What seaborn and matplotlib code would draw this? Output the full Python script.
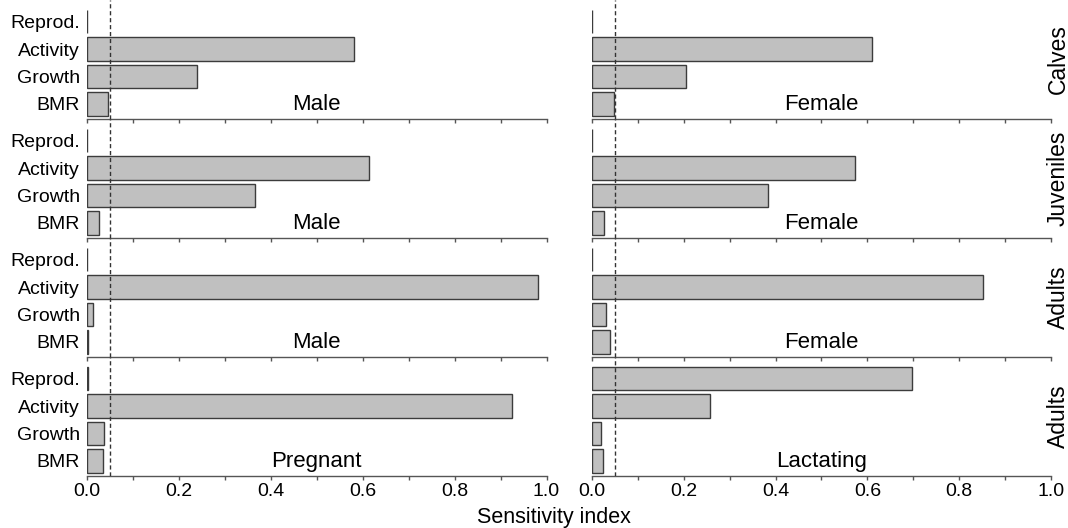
import numpy as np
import pandas as pd
import matplotlib
matplotlib.use("Agg")
import matplotlib.pyplot as plt
from matplotlib.ticker import MultipleLocator, FormatStrFormatter
import seaborn as sns

# Parametros y valores del indice de sensibilidad
params = ["Reprod.", "Activity", "Growth", "BMR"]
male_calves = [0.0, 0.581, 0.240, 0.046]
female_calves = [0.0, 0.611, 0.205, 0.048]
male_juveniles = [0.0, 0.613, 0.366, 0.027]
female_juveniles = [0.0, 0.574, 0.384, 0.026]
male_adults = [0.0, 0.982, 0.013, 0.003]
female_adults = [0.0, 0.851, 0.031, 0.039]
pregnant = [0.002, 0.925, 0.037, 0.034]
lactating = [0.698, 0.257, 0.020, 0.024]

row_labels = ["Calves", "Juveniles", "Adults", "Adults"]
panel_labels = [["Male", "Female"], ["Male", "Female"],
                ["Male", "Female"], ["Pregnant", "Lactating"]]
series = [[male_calves, female_calves], [male_juveniles, female_juveniles],
          [male_adults, female_adults], [pregnant, lactating]]
threshold = 0.05

sns.set_style("white")
plt.rcParams["font.family"] = ["Liberation Sans", "DejaVu Sans"]
plt.rcParams["text.color"] = "black"
plt.rcParams["xtick.labelcolor"] = "black"
plt.rcParams["ytick.labelcolor"] = "black"

fig = plt.figure(figsize=(10.68, 5.28), dpi=100)

W, H = 1068, 528
col_left = [87 / W, 591.7 / W]
ax_w = 459.5 / W
row_h = 119 / H
row_bottom = [1 - 119 / H, 1 - 238 / H, 1 - 357 / H, 1 - 476 / H]

for r in range(4):
    for c in range(2):
        ax = fig.add_axes([col_left[c], row_bottom[r], ax_w, row_h])
        ax.patch.set_alpha(0)
        df = pd.DataFrame({"param": params, "value": series[r][c]})
        sns.barplot(data=df, x="value", y="param", orient="h", color="#c0c0c0",
                    saturation=1, edgecolor="#3c3c3c", linewidth=1.0,
                    width=0.86, ax=ax)
        ax.axvline(threshold, color="#333333", linestyle=(0, (3, 2)),
                   linewidth=1.0, zorder=3)
        ax.set_xlim(0, 1.0)
        ax.set_ylim(3.55, -0.79)
        ax.set_xlabel("")
        ax.set_ylabel("")
        for s in ["left", "right", "top"]:
            ax.spines[s].set_visible(False)
        ax.spines["bottom"].set_color("#555555")
        ax.spines["bottom"].set_linewidth(1.0)
        ax.xaxis.set_major_locator(MultipleLocator(0.2))
        ax.xaxis.set_minor_locator(MultipleLocator(0.1))
        ax.tick_params(axis="x", which="both", direction="out", length=3,
                       width=1, color="#555555", labelsize=14, pad=2,
                       bottom=True)
        ax.xaxis.set_major_formatter(FormatStrFormatter("%.1f"))
        if r < 3:
            ax.tick_params(axis="x", labelbottom=False)
        ax.tick_params(axis="y", length=0, labelsize=14, pad=5)
        if c == 1:
            ax.tick_params(axis="y", labelleft=False)
        ax.text(0.5, 0.03, panel_labels[r][c], transform=ax.transAxes,
                ha="center", va="bottom", fontsize=16)
        if c == 1:
            ax.text(1.0 + 7 / 459.5, 0.5, row_labels[r], transform=ax.transAxes,
                    ha="center", va="center", rotation=90, fontsize=16.5)

fig.text(554 / W, 1 - 517 / H, "Sensitivity index", ha="center", va="center",
         fontsize=15.5)

fig.savefig("out.png", dpi=100)
